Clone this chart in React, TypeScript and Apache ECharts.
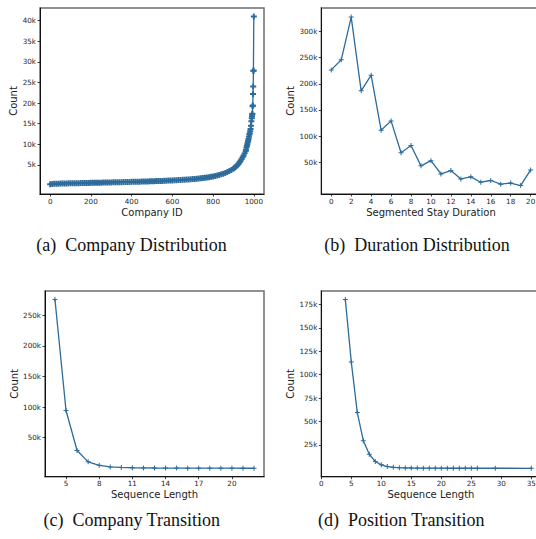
import React, { useEffect, useRef } from "react";
import * as echarts from "echarts";

// ---------- data ----------
const companyIds = [
  0, 10, 20, 30, 40, 50, 60, 70, 80, 90, 100, 110, 120, 130, 140, 150, 160, 170, 180, 190,
  200, 210, 220, 230, 240, 250, 260, 270, 280, 290, 300, 310, 320, 330, 340, 350, 360, 370, 380, 390,
  400, 410, 420, 430, 440, 450, 460, 470, 480, 490, 500, 510, 520, 530, 540, 550, 560, 570, 580, 590,
  600, 610, 620, 630, 640, 650, 660, 670, 680, 690, 700, 710, 720, 730, 740, 750, 760, 770, 780, 790,
  800, 810, 820, 830, 840, 850, 860, 870, 880, 890, 900, 905, 910, 915, 920, 925, 930, 935, 940, 945,
  950, 955, 960, 962, 964, 966, 968, 970, 972, 974, 976, 978, 980, 982, 984, 986, 988, 990, 991, 992,
  993, 994, 995, 996, 997, 998, 999, 1000,
];
const companyCounts = [
  300, 390, 420, 440, 460, 480, 490, 505, 520, 530, 545, 555, 565, 575, 585, 600, 610, 620, 630, 640,
  650, 660, 670, 685, 695, 705, 715, 725, 740, 750, 760, 775, 785, 795, 810, 820, 835, 845, 860, 875,
  890, 900, 915, 930, 945, 960, 975, 990, 1005, 1020, 1040, 1055, 1075, 1090, 1110, 1130, 1150, 1170, 1195, 1220,
  1245, 1270, 1300, 1330, 1360, 1390, 1420, 1455, 1490, 1530, 1570, 1610, 1660, 1710, 1760, 1820, 1880, 1950, 2030, 2120,
  2220, 2330, 2450, 2580, 2720, 2880, 3060, 3270, 3500, 3780, 4100, 4300, 4500, 4750, 5000, 5300, 5650, 6000, 6400, 6850,
  7300, 7800, 8300, 8700, 9200, 9600, 10000, 10400, 10800, 11300, 11800, 12300, 12700, 13200, 13700, 14500, 15600, 16300, 16800, 17200,
  17400, 19200, 19400, 22200, 24000, 27800, 27900, 41000,
];

const durationX = [0, 1, 2, 3, 4, 5, 6, 7, 8, 9, 10, 11, 12, 13, 14, 15, 16, 17, 18, 19, 20];
const durationCounts = [
  226500, 245800, 327500, 186500, 216500, 111200, 129000, 68000, 82000, 43000, 53000,
  27600, 34000, 18000, 22000, 11700, 15000, 8000, 10000, 5400, 35300,
];

const companyLen = [4, 5, 6, 7, 8, 9, 10, 11, 12, 13, 14, 15, 16, 17, 18, 19, 20, 21, 22];
const companyTrans = [
  276000, 94500, 29000, 10500, 4800, 2200, 1300, 800, 550, 400, 300, 220, 170, 130, 100, 80, 60, 50, 40,
];

const positionLen = [4, 5, 6, 7, 8, 9, 10, 11, 12, 13, 14, 15, 16, 17, 18, 19, 20, 21, 22, 23, 24, 25, 26, 29, 35];
const positionTrans = [
  180500, 113500, 59500, 29500, 15000, 7200, 3700, 1900, 1000, 600, 400, 280, 200, 150, 110, 85, 65, 50, 40,
  30, 25, 20, 15, 10, 5,
];

const companyXTicks = [0, 200, 400, 600, 800, 1000];
const companyYTicks = [5000, 10000, 15000, 20000, 25000, 30000, 35000, 40000];
const durationXTicks = [0, 2, 4, 6, 8, 10, 12, 14, 16, 18, 20];
const durationYTicks = [50000, 100000, 150000, 200000, 250000, 300000];
const compTransXTicks = [5, 8, 11, 14, 17, 20];
const compTransYTicks = [50000, 100000, 150000, 200000, 250000];
const posTransXTicks = [0, 5, 10, 15, 20, 25, 30, 35];
const posTransYTicks = [25000, 50000, 75000, 100000, 125000, 150000, 175000];

const captions = [
  "(a)  Company Distribution",
  "(b)  Duration Distribution",
  "(c)  Company Transition",
  "(d)  Position Transition",
];
const xNames = ["Company ID", "Segmented Stay Duration", "Sequence Length", "Sequence Length"];

// ---------- styling ----------
const LINE = "#2c6b9b";
const SANS = "DejaVu Sans";
const SERIF = "Liberation Serif";
const PLUS = "path://M4,0H6V4H10V6H6V10H4V6H0V4H4Z";
const PLUS_BOLD = "path://M3.4,0H6.6V3.4H10V6.6H6.6V10H3.4V6.6H0V3.4H3.4Z";

const zip = (xs: number[], ys: number[]) => xs.map((x, i) => [x, ys[i]]);

const panels = [
  { left: 40, top: 8, width: 224, height: 186, xMin: -50, xMax: 1050, yMin: -2050, yMax: 43050, xt: companyXTicks, yt: companyYTicks, data: zip(companyIds, companyCounts), nameGap: 21, sym: PLUS_BOLD, symSize: 6 },
  { left: 321.3, top: 8, width: 219.3, height: 186, xMin: -1, xMax: 21, yMin: -10800, yMax: 344900, xt: durationXTicks, yt: durationYTicks, data: zip(durationX, durationCounts), nameGap: 25, sym: PLUS, symSize: 5 },
  { left: 45, top: 291, width: 219, height: 185.7, xMin: 3.1, xMax: 22.9, yMin: -13800, yMax: 289800, xt: compTransXTicks, yt: compTransYTicks, data: zip(companyLen, companyTrans), nameGap: 25, sym: PLUS, symSize: 5 },
  { left: 321.3, top: 291, width: 219.3, height: 185.7, xMin: 0, xMax: 36.55, yMin: -9000, yMax: 189500, xt: posTransXTicks, yt: posTransYTicks, data: zip(positionLen, positionTrans), nameGap: 25, sym: PLUS, symSize: 5 },
];

const captionPos = [
  { x: 131.5, y: 245 },
  { x: 417, y: 245 },
  { x: 131.7, y: 520 },
  { x: 401.3, y: 520 },
];

export default function App() {
  const ref = useRef<HTMLDivElement>(null);
  useEffect(() => {
    if (!ref.current) return;
    const chart = echarts.init(ref.current, undefined, { renderer: "svg" });
    const grid = panels.map((p) => ({
      left: p.left,
      top: p.top,
      width: p.width,
      height: p.height,
      show: true,
      borderColor: "#6e6e6e",
      borderWidth: 1.5,
      backgroundColor: "transparent",
      containLabel: false,
      outerBoundsMode: "none",
    }));
    const xAxis = panels.map((p, i) => ({
      type: "value",
      gridIndex: i,
      min: p.xMin,
      max: p.xMax,
      name: xNames[i],
      nameLocation: "middle",
      nameGap: 13,
      nameTextStyle: { fontFamily: SANS, fontSize: 10, color: "#222" },
      axisLine: { show: true, onZero: false, lineStyle: { color: "#111", width: 1 } },
      axisTick: { show: true, length: 2.5, lineStyle: { color: "#111", width: 0.8 }, customValues: p.xt },
      axisLabel: {
        fontFamily: SANS,
        fontSize: 7.2,
        color: "#262626",
        margin: 3.5,
        customValues: p.xt,
        formatter: (v: number) => String(v),
      },
      splitLine: { show: false },
    }));
    const yAxis = panels.map((p, i) => ({
      type: "value",
      gridIndex: i,
      min: p.yMin,
      max: p.yMax,
      name: "Count",
      nameLocation: "middle",
      nameGap: p.nameGap,
      nameTextStyle: { fontFamily: SANS, fontSize: 10, color: "#222" },
      axisLine: { show: true, onZero: false, lineStyle: { color: "#111", width: 1 } },
      axisTick: { show: true, length: 2.5, lineStyle: { color: "#111", width: 0.8 }, customValues: p.yt },
      axisLabel: {
        fontFamily: SANS,
        fontSize: 7.2,
        color: "#262626",
        margin: 4,
        customValues: p.yt,
        formatter: (v: number) => `${Math.round(v / 1000)}k`,
      },
      splitLine: { show: false },
    }));
    const series = panels.map((p, i) => ({
      type: "line",
      xAxisIndex: i,
      yAxisIndex: i,
      data: p.data,
      symbol: p.sym,
      symbolSize: p.symSize,
      showSymbol: true,
      showAllSymbol: true,
      lineStyle: { color: LINE, width: 1.3 },
      itemStyle: { color: LINE },
      emphasis: { disabled: true },
    }));
    const graphic = captions.map((c, i) => ({
      type: "text",
      x: captionPos[i].x,
      y: captionPos[i].y,
      style: {
        text: c,
        fontFamily: SERIF,
        fontSize: 18,
        fill: "#111",
        textAlign: "center",
        textVerticalAlign: "middle",
      },
    }));
    chart.setOption({
      animation: false,
      backgroundColor: "#fff",
      grid,
      xAxis,
      yAxis,
      series,
      graphic,
    } as any);
    return () => chart.dispose();
  }, []);
  return (
    <div
      ref={ref}
      style={{ position: "absolute", left: 0, top: 0, width: 536, height: 539 }}
    />
  );
}
